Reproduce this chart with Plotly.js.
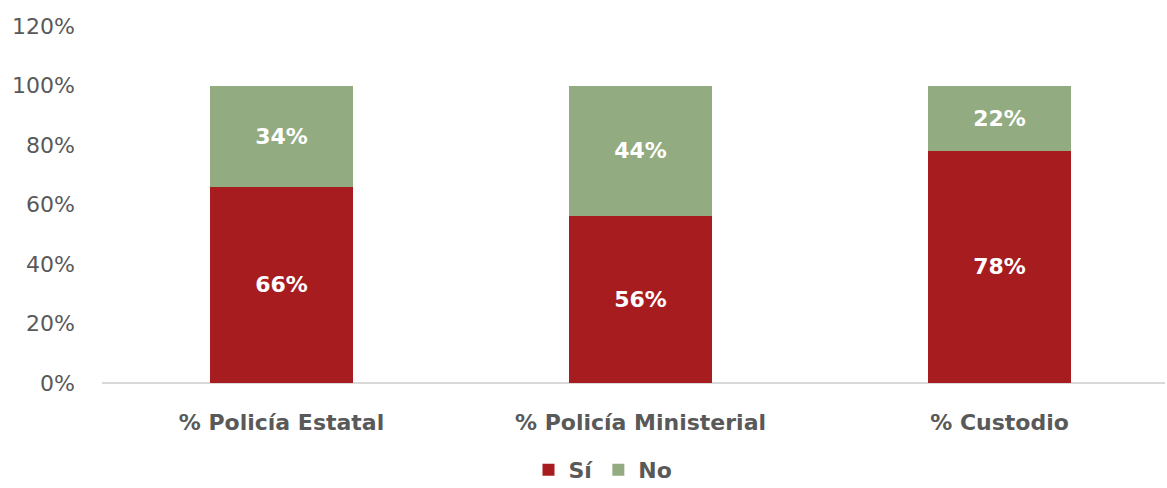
<!DOCTYPE html>
<html><head><meta charset="utf-8">
<script src="https://cdn.plot.ly/plotly-3.0.1.min.js"></script>
<style>body{margin:0}#c{width:1167px;height:488px}</style>
</head><body><div id="c"></div>
<script>
const categories = ["% Policía Estatal", "% Policía Ministerial", "% Custodio"];
const si = [0.66, 0.56, 0.78];
const no = [0.34, 0.44, 0.22];
const seriesNames = ["Sí", "No"];
const fontFam = "'DejaVu Sans', sans-serif";
const mk = (name, vals, color) => ({
  type: "bar", name: name, x: categories, y: vals,
  marker: {color: color},
  text: vals.map(v => Math.round(v*100) + "%"),
  textposition: "inside", insidetextanchor: "middle",
  textfont: {family: fontFam, size: 22, color: "#ffffff", weight: "bold"},
  hoverinfo: "none"
});
const data = [mk(seriesNames[0], si, "#A61C1F"), mk(seriesNames[1], no, "#93AB80")];
const layout = {
  width: 1167, height: 488,
  margin: {l: 102, r: 2, t: 26, b: 105},
  barmode: "stack", bargap: 0.6,
  paper_bgcolor: "#fff", plot_bgcolor: "#fff",
  font: {family: fontFam, color: "#595959"},
  xaxis: {range: [-0.5, 2.461], showgrid: false, showline: false, zeroline: false,
    ticks: "", tickfont: {size: 22, color: "#595959", weight: "bold"}, ticklabelstandoff: 24},
  yaxis: {range: [0, 1.2], dtick: 0.2, tickformat: ".0%", showgrid: false,
    zeroline: true, zerolinecolor: "#d9d9d9", zerolinewidth: 1.5, showline: false,
    tickfont: {size: 22, color: "#595959"}, ticklabelstandoff: 26},
  showlegend: true,
  legend: {orientation: "h", x: 603/1167, xref: "container", xanchor: "center",
    y: 18/488, yref: "container", yanchor: "middle",
    font: {size: 22, color: "#595959", weight: "bold"}, traceorder: "normal",
    itemwidth: 30, tracegroupgap: 0}
};
Plotly.newPlot("c", data, layout, {staticPlot: true});
</script></body></html>
